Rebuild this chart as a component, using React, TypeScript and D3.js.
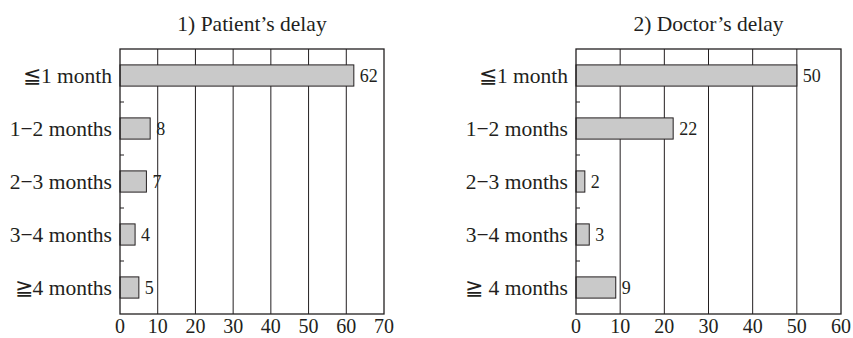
import React from "react";
import * as d3 from "d3";

const categoriesLeft = ["≦1 month", "1−2 months", "2−3 months", "3−4 months", "≧4 months"];
const categoriesRight = ["≦1 month", "1−2 months", "2−3 months", "3−4 months", "≧ 4 months"];
const patientDelay = [62, 8, 7, 4, 5];
const doctorDelay = [50, 22, 2, 3, 9];
const patientTicks = [0, 10, 20, 30, 40, 50, 60, 70];
const doctorTicks = [0, 10, 20, 30, 40, 50, 60];
const titles = ["1) Patient\u2019s delay", "2) Doctor\u2019s delay"];

const FONT = "'Liberation Serif', 'Times New Roman', serif";
const INK = "#231f20";

type PanelProps = {
  title: string;
  categories: string[];
  values: number[];
  ticks: number[];
  x0: number;
  x1: number;
};

function Panel({ title, categories, values, ticks, x0, x1 }: PanelProps) {
  const top = 49;
  const bottom = 314;
  const x = d3.scaleLinear().domain([0, ticks[ticks.length - 1]]).range([x0, x1]);
  const y = d3.scaleBand<string>().domain(categories).range([top, bottom]).paddingInner(0.6).paddingOuter(0.3);
  const step = y.step();
  const boundaries = categories.slice(1).map((c) => (y(c) as number) - (step * 0.6) / 2);
  return (
    <g>
      <text x={(x0 + x1) / 2} y={31} textAnchor="middle" fontFamily={FONT} fontSize={21.5} fill={INK}>
        {title}
      </text>
      {ticks.slice(1, -1).map((t) => (
        <line key={t} x1={x(t)} x2={x(t)} y1={top} y2={bottom} stroke={INK} strokeWidth={1} />
      ))}
      {boundaries.map((b, i) => (
        <line key={i} x1={x0} x2={x0 + 4} y1={b} y2={b} stroke={INK} strokeWidth={1} />
      ))}
      {categories.map((c, i) => (
        <g key={c}>
          <rect
            x={x(0)}
            y={y(c)}
            width={x(values[i]) - x(0)}
            height={y.bandwidth()}
            fill="#c9c9c9"
            stroke={INK}
            strokeWidth={1}
          />
          <text
            x={x(values[i]) + 6}
            y={(y(c) as number) + y.bandwidth() / 2 + 6}
            fontFamily={FONT}
            fontSize={18}
            fill={INK}
          >
            {values[i]}
          </text>
          <text
            x={x0 - 8}
            y={(y(c) as number) + y.bandwidth() / 2 + 7.5}
            textAnchor="end"
            fontFamily={FONT}
            fontSize={21.5}
            fill={INK}
          >
            {c}
          </text>
        </g>
      ))}
      <rect x={x0} y={top} width={x1 - x0} height={bottom - top} fill="none" stroke={INK} strokeWidth={1.3} />
      {ticks.map((t) => (
        <text key={t} x={x(t)} y={333} textAnchor="middle" fontFamily={FONT} fontSize={20} fill={INK}>
          {t}
        </text>
      ))}
    </g>
  );
}

export default function App() {
  return (
    <svg
      width={853}
      height={338}
      style={{ position: "absolute", left: 0, top: 0, background: "#fff" }}
    >
      <rect width={853} height={338} fill="#fff" />
      <Panel title={titles[0]} categories={categoriesLeft} values={patientDelay} ticks={patientTicks} x0={120} x1={384} />
      <Panel title={titles[1]} categories={categoriesRight} values={doctorDelay} ticks={doctorTicks} x0={576} x1={841} />
    </svg>
  );
}
